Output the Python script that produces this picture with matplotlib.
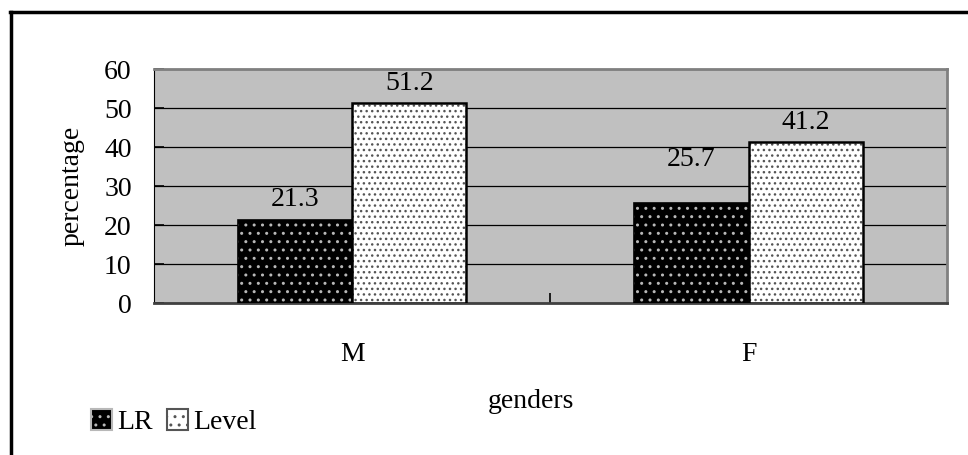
import matplotlib.pyplot as plt
import numpy as np
from matplotlib.patches import Patch
from matplotlib.lines import Line2D

# datele din grafic
genuri = ['M', 'F']
lr = [21.3, 25.7]
level = [51.2, 41.2]

plt.rcParams['font.family'] = ['Liberation Serif', 'DejaVu Serif']
plt.rcParams['hatch.linewidth'] = 1.0

fs = 20
fig = plt.figure(figsize=(9.68, 4.55), dpi=100)
ax = fig.add_axes([0.159, 0.334, 0.819, 0.514])
ax.set_facecolor('#c0c0c0')

x = np.arange(len(genuri))
w = 0.288

# LR: negru cu puncte albe
ax.bar(x - w/2, lr, w, color='black', edgecolor='#b8b8b8', hatch='..', linewidth=0, zorder=3)
ax.bar(x - w/2, lr, w, fill=False, edgecolor='black', linewidth=1.2, zorder=4)
# Level: alb cu puncte negre
ax.bar(x + w/2, level, w, color='white', edgecolor='#555555', hatch='...', linewidth=0, zorder=3)
ax.bar(x + w/2, level, w, fill=False, edgecolor='black', linewidth=1.8, zorder=4)

# etichete (25.7 e mutata mai sus, ca in original)
lr_off = [14.5, 31]
for xi, v, off in zip(x - w/2, lr, lr_off):
    ax.annotate(f'{v}', (xi, v), xytext=(0, off), textcoords='offset points',
                ha='center', va='center', fontsize=fs)
for xi, v in zip(x + w/2, level):
    ax.annotate(f'{v}', (xi, v), xytext=(0, 14.5), textcoords='offset points',
                ha='center', va='center', fontsize=fs)

ax.set_xlim(-0.5, 1.5)
ax.set_ylim(0, 60)
ax.set_yticks(range(0, 61, 10))
ax.yaxis.grid(True, color='black', linewidth=0.9, zorder=1)
ax.set_axisbelow(True)

ax.set_xticks(x)
ax.set_xticklabels(genuri)
ax.set_xticks([0.5], minor=True)
ax.tick_params(axis='x', which='major', length=0, pad=28, labelsize=fs)
ax.tick_params(axis='x', which='minor', direction='in', length=7, width=1.2)
ax.tick_params(axis='y', direction='in', length=7, width=1.2, pad=16, labelsize=fs)

for s in ['top', 'right']:
    ax.spines[s].set_color('#808080')
    ax.spines[s].set_linewidth(2)
ax.spines['left'].set_color('black')
ax.spines['bottom'].set_color('#404040')
ax.spines['bottom'].set_linewidth(2)

ax.set_ylabel('percentage', fontsize=fs, labelpad=14)
fig.text(0.548, 0.118, 'genders', ha='center', va='center', fontsize=fs)

handles = [Patch(facecolor='black', edgecolor='#b8b8b8', hatch='..', linewidth=0),
           Patch(facecolor='white', edgecolor='#555555', hatch='..', linewidth=0)]
leg = fig.legend(handles, ['LR', 'Level'], loc='center left', bbox_to_anchor=(0.068, 0.072),
                 ncol=2, frameon=False, fontsize=fs, handlelength=0.75, handleheight=0.75,
                 handletextpad=0.2, columnspacing=0.5)
for p in leg.get_patches():
    p.set_linewidth(1.5)

# chenarul exterior (doar sus si stanga)
fig.add_artist(Line2D([0.0105, 1.0], [0.974, 0.974], color='black', linewidth=2.5))
fig.add_artist(Line2D([0.0115, 0.0115], [0.0, 0.974], color='black', linewidth=2.5))

fig.savefig('out.png', dpi=100)
